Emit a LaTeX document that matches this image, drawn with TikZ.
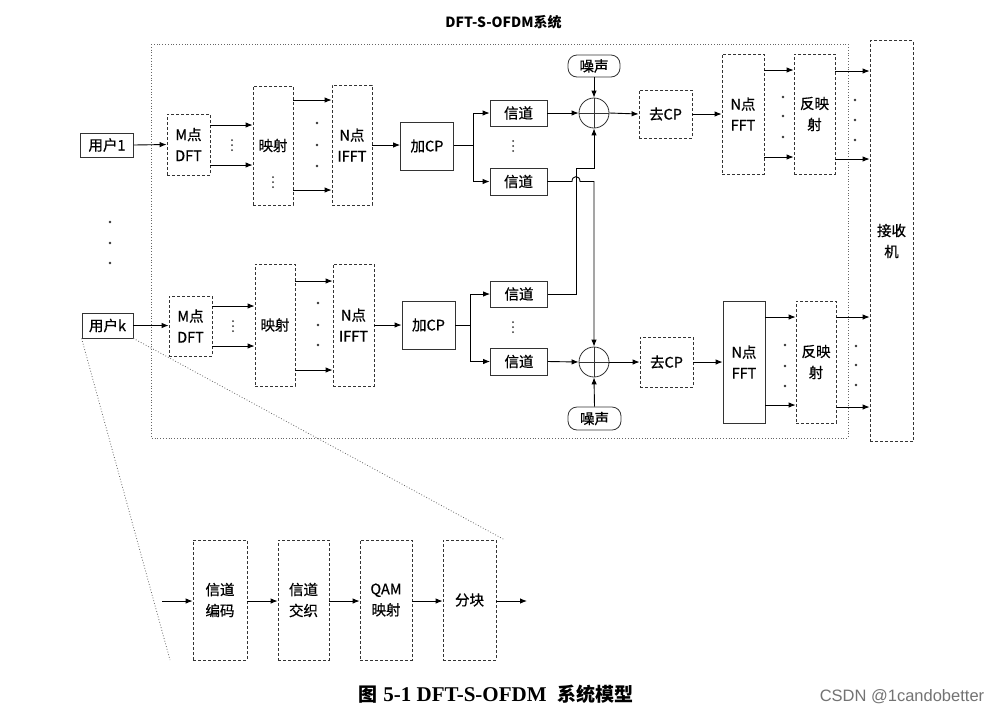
\documentclass[tikz,border=0pt]{standalone}
\usepackage{fontspec}
\newfontfamily\cjk{Noto Sans CJK SC}
\newfontfamily\cjkm[FakeBold=0.6]{Noto Sans CJK SC}
\newfontfamily\capserif{Liberation Serif}
\newfontfamily\wmfont{Liberation Sans}
\usetikzlibrary{arrows.meta}
\newcommand\vdts[3]{%
  \node[sdot] (#1a) at (#2,#3-5) {};
  \node[sdot] (#1b) at (#2,#3) {};
  \node[sdot] (#1c) at (#2,#3+5) {};}
\begin{document}
\begin{tikzpicture}[x=1pt,y=-1pt,
  box/.style={draw=black!80, line width=0.8pt, inner sep=0pt, align=center,
    font=\cjkm\fontsize{14.5}{21}\selectfont},
  dbox/.style={box, densely dashed},
  rbox/.style={box, rounded corners=9pt},
  arr/.style={-{Latex[length=7pt,width=5.5pt]}, line width=0.9pt},
  ln/.style={line width=0.9pt},
  dotm/.style={circle, fill=black!80, inner sep=0pt, minimum size=2.6pt},
  sdot/.style={circle, fill=black!80, inner sep=0pt, minimum size=2pt},
  guide/.style={black!60, dotted, line width=0.8pt}]
\useasboundingbox (0,0) rectangle (1006,713);
\fill[white] (0,0) rectangle (1006,713);

% title
\node[font=\cjk\bfseries\fontsize{14}{16}\selectfont] (title) at (503.5,22.5) {DFT-S-OFDM系统};

% outer dotted frame
\draw[guide] (151,44) rectangle (848,438);

% ---------------- upper branch ----------------
\node[box, minimum width=53pt, minimum height=24pt] (u1) at (107,145) {用户1};
\node[dbox, minimum width=43pt, minimum height=61pt] (dft1) at (188.5,144.5) {M点\\DFT};
\node[dbox, minimum width=40pt, minimum height=119pt] (map1) at (273,145.5) {映射};
\vdts{mapv1}{273}{182}
\node[dbox, minimum width=40pt, minimum height=120pt] (ifft1) at (352,145) {N点\\IFFT};
\node[box, minimum width=53pt, minimum height=48pt] (cp1) at (427,146) {加CP};
\node[box, minimum width=57pt, minimum height=26pt] (ch1a) at (518.5,113) {信道};
\node[box, minimum width=57pt, minimum height=27pt] (ch1b) at (518.5,181.5) {信道};
\node[draw=black!80, line width=0.8pt, circle, minimum size=30pt, inner sep=0pt] (add1) at (594,113) {};
\draw[line width=0.5pt, black!80] (add1.north) -- (add1.south) (add1.west) -- (add1.east);
\node[rbox, minimum width=52pt, minimum height=22pt] (nz1) at (594,66) {噪声};
\node[dbox, minimum width=53pt, minimum height=48pt] (rcp1) at (665.5,114) {去CP};
\node[dbox, minimum width=42pt, minimum height=120pt] (fft1) at (743,114) {N点\\FFT};
\node[dbox, minimum width=41pt, minimum height=120pt] (dmap1) at (814.5,114) {反映\\射};

% receiver
\node[dbox, minimum width=43pt, minimum height=401pt] (rx) at (891.5,241) {接收\\机};

% user dots
\node[dotm] (ud1) at (110,222) {};
\node[dotm] (ud2) at (110,243) {};
\node[dotm] (ud3) at (110,263) {};

% upper connections
\draw[arr] (u1.east) -- (dft1.west);
\vdts{dv1}{232}{145}
\draw[arr] (dft1.east |- 0,125) -- (map1.west |- 0,125);
\draw[arr] (dft1.east |- 0,165) -- (map1.west |- 0,165);
\draw[arr] (map1.east |- 0,100) -- (ifft1.west |- 0,100);
\draw[arr] (map1.east |- 0,190) -- (ifft1.west |- 0,190);
\node[dotm] (md1a) at (317,123) {};
\node[dotm] (md1b) at (317,145) {};
\node[dotm] (md1c) at (317,166) {};
\draw[arr] (ifft1.east |- 0,145) -- (cp1.west |- 0,145);
\coordinate (br1) at (473,145);
\draw[ln] (cp1.east |- br1) -- (br1);
\draw[arr] (br1) |- (ch1a.west);
\draw[arr] (br1) |- (ch1b.west);
\vdts{cv1}{513}{146}
\draw[arr] (ch1a.east) -- (add1.west);
\draw[arr] (nz1.south) -- (add1.north);
\draw[arr] (add1.east) -- (rcp1.west);
\draw[arr] (rcp1.east) -- (fft1.west);
\draw[arr] (fft1.east |- 0,70) -- (dmap1.west |- 0,70);
\draw[arr] (fft1.east |- 0,157) -- (dmap1.west |- 0,157);
\node[dotm] (fd1a) at (783,97) {};
\node[dotm] (fd1b) at (783,116) {};
\node[dotm] (fd1c) at (783,137) {};
\draw[arr] (dmap1.east |- 0,71) -- (rx.west |- 0,71);
\draw[arr] (dmap1.east |- 0,159) -- (rx.west |- 0,159);
\node[dotm] (rd1a) at (855,100) {};
\node[dotm] (rd1b) at (855,120) {};
\node[dotm] (rd1c) at (855,140) {};

% ---------------- lower branch ----------------
\node[box, minimum width=51pt, minimum height=25pt] (uk) at (107.5,325.5) {用户k};
\node[dbox, minimum width=43pt, minimum height=60pt] (dft2) at (190.5,326) {M点\\DFT};
\node[dbox, minimum width=40pt, minimum height=122pt] (map2) at (275,325) {映射};
\node[dbox, minimum width=41pt, minimum height=122pt] (ifft2) at (353.5,325) {N点\\IFFT};
\node[box, minimum width=53pt, minimum height=48pt] (cp2) at (428.5,325) {加CP};
\node[box, minimum width=57pt, minimum height=26pt] (ch2a) at (519,294) {信道};
\node[box, minimum width=57pt, minimum height=27pt] (ch2b) at (519,361.5) {信道};
\node[draw=black!80, line width=0.8pt, circle, minimum size=30pt, inner sep=0pt] (add2) at (594,362) {};
\draw[line width=0.5pt, black!80] (add2.north) -- (add2.south) (add2.west) -- (add2.east);
\node[rbox, minimum width=53pt, minimum height=23pt] (nz2) at (594.5,418.5) {噪声};
\node[dbox, minimum width=53pt, minimum height=50pt] (rcp2) at (666.5,362) {去CP};
\node[box, minimum width=42pt, minimum height=122pt] (fft2) at (744,362) {N点\\FFT};
\node[dbox, minimum width=40pt, minimum height=122pt] (dmap2) at (816,362) {反映\\射};

\draw[arr] (uk.east) -- (dft2.west |- uk.east);
\vdts{dv2}{233}{326}
\draw[arr] (dft2.east |- 0,306) -- (map2.west |- 0,306);
\draw[arr] (dft2.east |- 0,346) -- (map2.west |- 0,346);
\draw[arr] (map2.east |- 0,281) -- (ifft2.west |- 0,281);
\draw[arr] (map2.east |- 0,370) -- (ifft2.west |- 0,370);
\node[dotm] (md2a) at (318,303) {};
\node[dotm] (md2b) at (318,325) {};
\node[dotm] (md2c) at (318,345) {};
\draw[arr] (ifft2.east |- 0,325) -- (cp2.west |- 0,325);
\coordinate (br2) at (470,325);
\draw[ln] (cp2.east |- br2) -- (br2);
\draw[arr] (br2) |- (ch2a.west);
\draw[arr] (br2) |- (ch2b.west);
\vdts{cv2}{513}{327}
\draw[arr] (ch2b.east) -- (add2.west);
\draw[arr] (nz2.north) -- (add2.south);
\draw[arr] (add2.east) -- (rcp2.west);
\draw[arr] (rcp2.east) -- (fft2.west);
\draw[arr] (fft2.east |- 0,317) -- (dmap2.west |- 0,317);
\draw[arr] (fft2.east |- 0,405) -- (dmap2.west |- 0,405);
\node[dotm] (fd2a) at (785,345) {};
\node[dotm] (fd2b) at (785,366) {};
\node[dotm] (fd2c) at (785,386) {};
\draw[arr] (dmap2.east |- 0,317) -- (rx.west |- 0,317);
\draw[arr] (dmap2.east |- 0,407) -- (rx.west |- 0,407);
\node[dotm] (rd2a) at (856,346) {};
\node[dotm] (rd2b) at (856,365) {};
\node[dotm] (rd2c) at (856,385) {};

% cross connections
\draw[arr] (ch2a.east) -- (576,294) -- (576,168) -- (594,168) -- (add1.south);
\draw[arr] (ch1b.east) -- (572,181.5) .. controls (572,175) and (580,175) .. (580,181.5)
  -- (594,181.5) -- (add2.north);

% ---------------- zoom detail ----------------
\coordinate (zl) at (170,660);
\coordinate (zr) at (505,540);
\draw[guide] (uk.south west) -- (zl);
\draw[guide] (uk.south east) -- (zr);

\node[dbox, minimum width=54pt, minimum height=120pt] (b1) at (220,600) {信道\\编码};
\node[dbox, minimum width=51pt, minimum height=120pt] (b2) at (303.5,600) {信道\\交织};
\node[dbox, minimum width=52pt, minimum height=120pt] (b3) at (386,600) {QAM\\映射};
\node[dbox, minimum width=53pt, minimum height=120pt] (b4) at (469.5,600) {分块};
\coordinate (bin) at (162,601);
\coordinate (bout) at (527,601);
\draw[arr] (bin) -- (b1.west |- bin);
\draw[arr] (b1.east |- bin) -- (b2.west |- bin);
\draw[arr] (b2.east |- bin) -- (b3.west |- bin);
\draw[arr] (b3.east |- bin) -- (b4.west |- bin);
\draw[arr] (b4.east |- bin) -- (bout);

% caption
\node[inner sep=0pt, font=\bfseries\fontsize{19}{21}\selectfont] (cap) at (496,694)
  {{\cjk 图}\hspace{6pt}{\capserif\fontsize{21}{23}\selectfont 5-1 DFT-S-OFDM}\hspace{11pt}{\cjk 系统模型}};
\node[inner sep=0pt, text=black!55, font=\wmfont\fontsize{16.5}{18}\selectfont] (wm) at (902,697) {CSDN @1candobetter};
\end{tikzpicture}
\end{document}
